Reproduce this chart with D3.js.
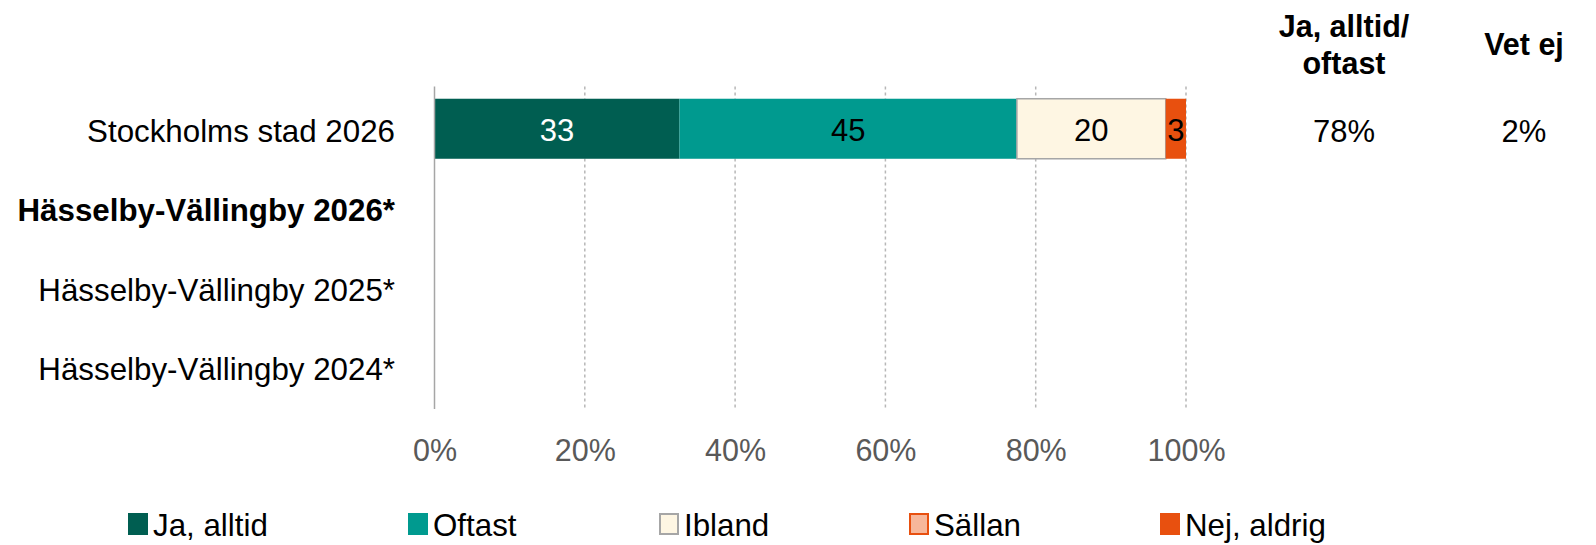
<!DOCTYPE html>
<html><head><meta charset="utf-8">
<script src="https://cdn.jsdelivr.net/npm/d3@7"></script>
<style>
body{margin:0;background:#fff;}
svg{display:block;font-family:Arial,"Liberation Sans",sans-serif;}
</style></head>
<body><svg id="c" width="1596" height="545"></svg>
<script>
// ---- data ----
const categories = ["Stockholms stad 2026","Hässelby-Vällingby 2026*","Hässelby-Vällingby 2025*","Hässelby-Vällingby 2024*"];
const boldCategories = ["Hässelby-Vällingby 2026*"];
const seriesNames = ["Ja, alltid","Oftast","Ibland","Sällan","Nej, aldrig"];
const jaAlltid  = [32.6, null, null, null];
const oftast    = [44.9, null, null, null];
const ibland    = [19.8, null, null, null];
const sallan    = [0,    null, null, null];
const nejAldrig = [2.7,  null, null, null];
const jaOftastTotal = ["78%", "", "", ""];
const vetEj = ["2%", "", "", ""];
const tickValues = [0,20,40,60,80,100];

// ---- style ----
const fills   = ["#005e51","#009a8f","#fef6e3","#f7b79a","#e8500f"];
const strokes = [null,null,"#a6a6a6","#e8500f",null];
const labelColors = ["#ffffff","#000000","#000000","#000000","#000000"];
const legendX = [128, 408, 659, 909, 1160];

const svg = d3.select("#c");
const x = d3.scaleLinear().domain([0,100]).range([434.5,1186]);
const y = d3.scaleBand().domain(categories).range([89,407]).paddingInner(0.245).paddingOuter(0.1225);

const seriesVals = [jaAlltid, oftast, ibland, sallan, nejAldrig];

// gridlines
svg.append("g").selectAll("line").data(tickValues.filter(d=>d>0)).join("line")
  .attr("x1",d=>x(d)).attr("x2",d=>x(d)).attr("y1",86.5).attr("y2",409)
  .attr("stroke","#b7b7b7").attr("stroke-width",1.5).attr("stroke-dasharray","3,3");

// bars
categories.forEach((cat,i)=>{
  let cum = 0;
  seriesVals.forEach((arr,s)=>{
    const v = arr[i];
    if(v==null) return;
    const x0 = x(cum), x1 = x(cum+v);
    cum += v;
    if(v<=0) return;
    svg.append("rect")
      .attr("x",x0).attr("y",y(cat)).attr("width",x1-x0).attr("height",y.bandwidth())
      .attr("fill",fills[s])
      .attr("stroke",strokes[s]||"none").attr("stroke-width",strokes[s]?1.5:0);
    svg.append("text")
      .attr("x",(x0+x1)/2).attr("y",y(cat)+y.bandwidth()/2+12)
      .attr("text-anchor","middle").attr("font-size",31)
      .attr("fill",labelColors[s]).text(Math.round(v));
  });
});

// zero axis line
svg.append("line").attr("x1",x(0)).attr("x2",x(0)).attr("y1",86.5).attr("y2",409)
  .attr("stroke","#a6a6a6").attr("stroke-width",1.5);

// x axis tick labels
const xAxis = d3.axisBottom(x).tickValues(tickValues).tickFormat(d=>d+"%").tickSize(0).tickPadding(0);
const gx = svg.append("g").attr("transform","translate(0,437)").call(xAxis);
gx.select(".domain").remove();
gx.selectAll("text").attr("font-size",30.5).attr("fill","#595959")
  .attr("font-family","Arial,'Liberation Sans',sans-serif").attr("dy","0.77em");

// category labels
const yAxis = d3.axisLeft(y).tickSize(0).tickPadding(0);
const gy = svg.append("g").attr("transform","translate(395,0)").call(yAxis);
gy.select(".domain").remove();
gy.selectAll("text").attr("font-size",31.3).attr("fill","#000")
  .attr("font-family","Arial,'Liberation Sans',sans-serif")
  .attr("dy",null).attr("y",13)
  .attr("font-weight",d=>boldCategories.includes(d)?"bold":"normal");

// side columns
const colJa = 1344, colVet = 1524;
svg.append("text").attr("x",colJa).attr("y",37).attr("text-anchor","middle")
  .attr("font-size",30.5).attr("font-weight","bold").text("Ja, alltid/");
svg.append("text").attr("x",colJa).attr("y",74).attr("text-anchor","middle")
  .attr("font-size",30.5).attr("font-weight","bold").text("oftast");
svg.append("text").attr("x",colVet).attr("y",55).attr("text-anchor","middle")
  .attr("font-size",30.5).attr("font-weight","bold").text("Vet ej");
categories.forEach((cat,i)=>{
  svg.append("text").attr("x",colJa).attr("y",y(cat)+y.bandwidth()/2+13)
    .attr("text-anchor","middle").attr("font-size",31).text(jaOftastTotal[i]);
  svg.append("text").attr("x",colVet).attr("y",y(cat)+y.bandwidth()/2+13)
    .attr("text-anchor","middle").attr("font-size",31).text(vetEj[i]);
});

// legend
const lg = svg.append("g");
seriesNames.forEach((n,s)=>{
  const g = lg.append("g").attr("transform",`translate(${legendX[s]},0)`);
  g.append("rect").attr("x",strokes[s]?1:0).attr("y",strokes[s]?514:513)
    .attr("width",strokes[s]?18:20).attr("height",strokes[s]?20:22)
    .attr("fill",fills[s]).attr("stroke",strokes[s]||"none").attr("stroke-width",strokes[s]?2:0);
  g.append("text").attr("x",25).attr("y",536).attr("font-size",31.3).text(n);
});
</script></body></html>
